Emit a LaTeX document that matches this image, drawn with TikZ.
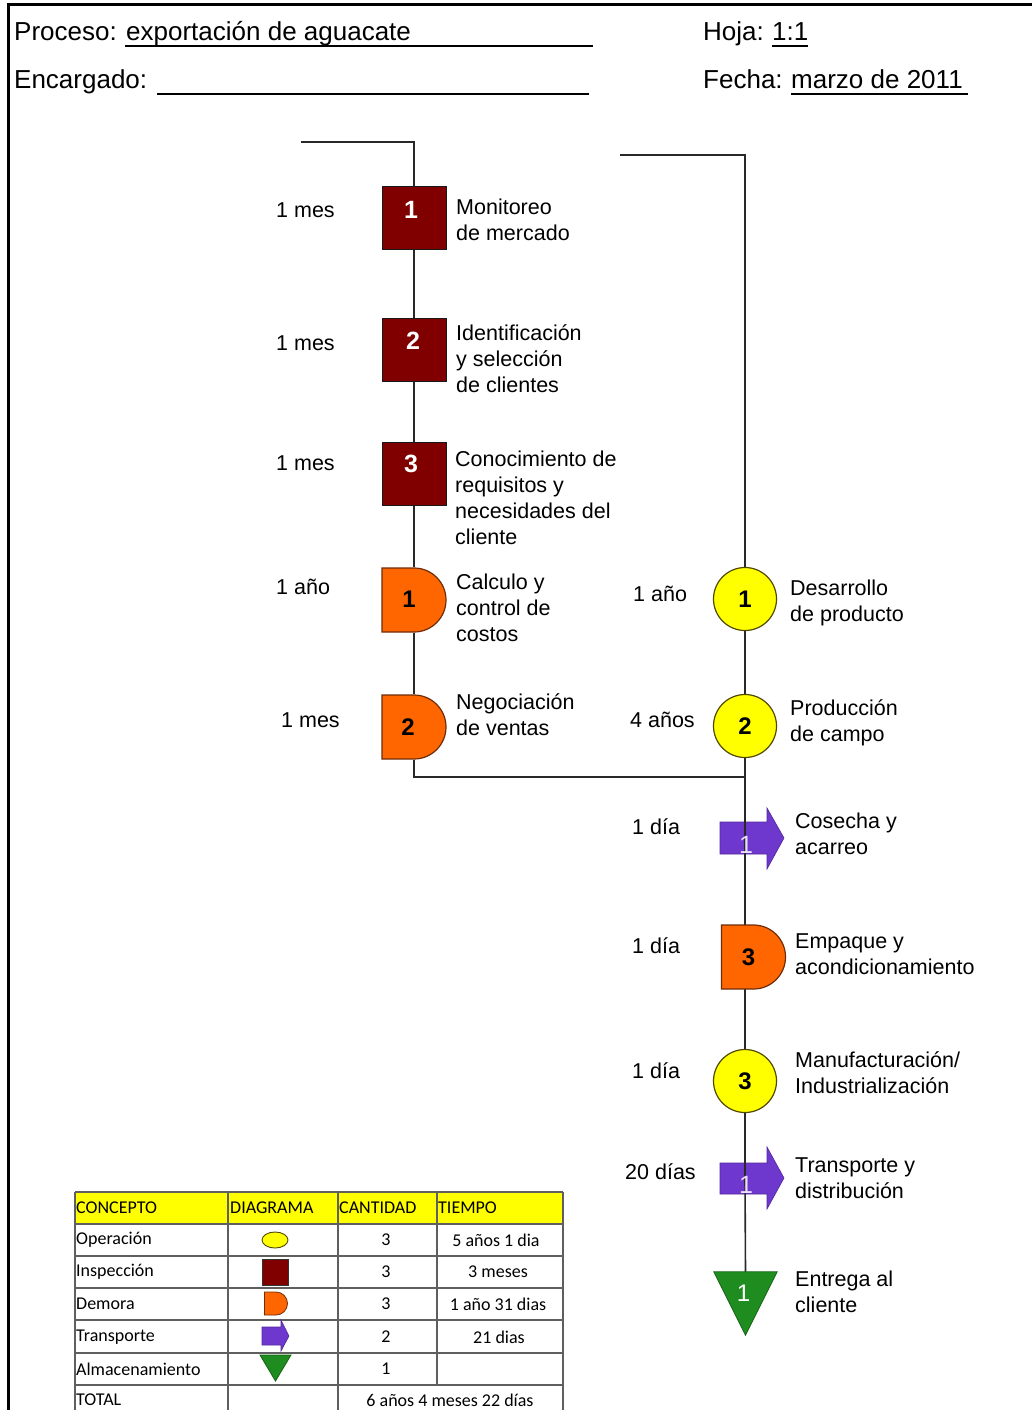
\documentclass[tikz,border=0pt]{standalone}
\usepackage{fontspec}
\setmainfont{Liberation Sans}
\newfontfamily\tablefont{Carlito}
\usetikzlibrary{shapes.misc,backgrounds,calc}

\definecolor{inspred}{RGB}{128,0,0}
\definecolor{delayor}{RGB}{255,102,0}
\definecolor{delayedge}{RGB}{110,45,10}
\definecolor{opyel}{RGB}{255,255,0}
\definecolor{opedge}{RGB}{80,72,0}
\definecolor{transpur}{RGB}{110,55,205}
\definecolor{storgreen}{RGB}{30,140,30}
\definecolor{flowline}{RGB}{40,40,40}
\definecolor{rulegray}{RGB}{95,95,95}
\definecolor{numlight}{RGB}{235,225,255}

\tikzset{
  flow/.style={draw=flowline, line width=1.6pt},
  inspbox/.style={rectangle, draw=black!90, line width=1pt, fill=inspred,
    minimum width=64pt, minimum height=63pt, inner sep=0pt},
  delaybox/.style={rounded rectangle, rounded rectangle west arc=none,
    draw=delayedge, line width=1.2pt, fill=delayor,
    minimum width=64pt, minimum height=64pt, inner sep=0pt},
  opcircle/.style={circle, draw=opedge, line width=1.2pt, fill=opyel,
    minimum size=63pt, inner sep=0pt},
  anchorbox/.style={rectangle, minimum width=64pt, minimum height=62pt, inner sep=0pt},
  storebox/.style={rectangle, minimum width=63pt, minimum height=63pt, inner sep=0pt},
  transfill/.style={fill=transpur, draw=transpur!75!black, line width=0.6pt},
  storefill/.style={fill=storgreen, draw=storgreen!70!black, line width=0.8pt},
  numw/.style={font=\fontsize{25}{25}\selectfont\bfseries, text=white, inner sep=0pt},
  numb/.style={font=\fontsize{24}{24}\selectfont\bfseries, text=black, inner sep=0pt},
  numl/.style={font=\fontsize{25}{25}\selectfont, text=numlight, inner sep=0pt},
  numg/.style={font=\fontsize{24}{24}\selectfont, text=white, inner sep=0pt},
  stepdesc/.style={anchor=north west, align=left, inner sep=0pt,
    font=\fontsize{21.5}{26}\selectfont},
  timelbl/.style={anchor=west, inner sep=0pt, font=\fontsize{21.5}{26}\selectfont},
  headtxt/.style={anchor=base west, inner sep=0pt, font=\fontsize{26}{30}\selectfont},
  tabtxt/.style={inner sep=0pt, font=\tablefont\fontsize{18}{20}\selectfont},
  tabrule/.style={draw=rulegray, line width=1.2pt},
  headrule/.style={draw=black, line width=1.3pt},
}

\begin{document}
\begin{tikzpicture}[x=1pt, y=-1pt]
\begin{pgfonlayer}{background}
  \fill[white] (0,0) rectangle (1032,1410);
\end{pgfonlayer}
\useasboundingbox (0,0) rectangle (1032,1410);

% sheet frame
\draw[line width=3pt] (7,5) -- (1032,5);
\draw[line width=3pt] (8,5) -- (8,1410);

% header
\node[headtxt] (proc-l) at (14,41) {Proceso:};
\node[headtxt] (proc-v) at (126,41) {exportación de aguacate};
\node[headtxt] (enc-l) at (14,89) {Encargado:};
\node[headtxt] (hoja-l) at (703,41) {Hoja:};
\node[headtxt] (hoja-v) at (772,41) {1:1};
\node[headtxt] (fecha-l) at (703,89) {Fecha:};
\node[headtxt] (fecha-v) at (791,89) {marzo de 2011};
\draw[headrule] (125,46) -- (593,46);
\draw[headrule] (157,94) -- (589,94);
\draw[headrule] (772,46) -- (808,46);
\draw[headrule] (791,94) -- (968,94);

% free ends of the two flow lines and their meeting point
\coordinate (startL) at (301,142);
\coordinate (startR) at (620,155);
\coordinate (join) at (745,777);

% left branch
\node[inspbox] (sq1) at (414,217.5) {};
\node[inspbox] (sq2) at (414,349.5) {};
\node[inspbox] (sq3) at (414,474) {};
\node[delaybox] (d1) at (414,600) {};
\node[delaybox] (d2) at (414,727) {};

% right branch
\node[opcircle] (c1) at (745,599) {};
\node[opcircle] (c2) at (745,726) {};
\node[anchorbox] (tr1) at (745,838) {};
\node[delaybox, minimum width=63pt] (d3) at (753.5,957) {};
\node[opcircle] (c3) at (745,1081) {};
\node[anchorbox] (tr2) at (745,1178) {};
\node[storebox] (st1) at (745.5,1303.5) {};
\fill[storefill] (st1.north west) -- (st1.north east) -- (st1.south) -- cycle;

\begin{pgfonlayer}{background}
  % transport arrows sit under the flow line
  \path[transfill] ([shift={(-25,-16)}]tr1.center) -- ++(47,0) -- ++(0,-14)
    -- ++(17,30) -- ++(-17,31) -- ++(0,-15) -- ++(-47,0) -- cycle;
  \path[transfill] ([shift={(-25,-15)}]tr2.center) -- ++(47,0) -- ++(0,-16)
    -- ++(17,31) -- ++(-17,31) -- ++(0,-15) -- ++(-47,0) -- cycle;
  % flow lines
  \draw[flow] (startL) -| (sq1);
  \draw[flow] (sq1) -- (sq2) -- (sq3) -- (d1) -- (d2);
  \draw[flow] (d2) |- (join);
  \draw[flow] (startR) -| (c1);
  \draw[flow] (c1) -- (c2) -- (join) -- (tr1.center) -- (c3) -- (tr2.center) -- (st1.north);
\end{pgfonlayer}

% symbol numbers
\node[numw] (sq1-n) at ([shift={(-3,-8)}]sq1.center) {1};
\node[numw] (sq2-n) at ([shift={(-1,-9)}]sq2.center) {2};
\node[numw] (sq3-n) at ([shift={(-3,-10)}]sq3.center) {3};
\node[numb] (d1-n) at ([shift={(-5,-1)}]d1.center) {1};
\node[numb] (d2-n) at ([shift={(-6,0)}]d2.center) {2};
\node[numb] (d3-n) at ([shift={(-5,0)}]d3.center) {3};
\node[numb] (c1-n) at (c1.center) {1};
\node[numb] (c2-n) at (c2.center) {2};
\node[numb] (c3-n) at (c3.center) {3};
\node[numl] (tr1-n) at ([shift={(1,7)}]tr1.center) {1};
\node[numl] (tr2-n) at ([shift={(1,7)}]tr2.center) {1};
\node[numg] (st1-n) at ([shift={(-2,-10)}]st1.center) {1};

% step descriptions
\node[stepdesc] (sq1-t) at (456,198.3) {Monitoreo\\de mercado};
\node[stepdesc] (sq2-t) at (456,324.3) {Identificación\\y selección\\de clientes};
\node[stepdesc] (sq3-t) at (455,450.3) {Conocimiento de\\requisitos y\\necesidades del\\cliente};
\node[stepdesc] (d1-t) at (456,573.5) {Calculo y\\control de\\costos};
\node[stepdesc] (d2-t) at (456,693.5) {Negociación\\de ventas};
\node[stepdesc] (c1-t) at (790,579.5) {Desarrollo\\de producto};
\node[stepdesc] (c2-t) at (790,699.5) {Producción\\de campo};
\node[stepdesc] (tr1-t) at (795,812.5) {Cosecha y\\acarreo};
\node[stepdesc] (d3-t) at (795,933.5) {Empaque y\\acondicionamiento};
\node[stepdesc] (c3-t) at (795,1051.5) {Manufacturación/\\Industrialización};
\node[stepdesc] (tr2-t) at (795,1157.5) {Transporte y\\distribución};
\node[stepdesc] (st1-t) at (795,1270.5) {Entrega al\\cliente};

% durations
\node[timelbl] (sq1-d) at (276,210.5) {1 mes};
\node[timelbl] (sq2-d) at (276,343) {1 mes};
\node[timelbl] (sq3-d) at (276,463) {1 mes};
\node[timelbl] (d1-d) at (276,587) {1 año};
\node[timelbl] (d2-d) at (281,720) {1 mes};
\node[timelbl] (c1-d) at (633,594) {1 año};
\node[timelbl] (c2-d) at (630,720) {4 años};
\node[timelbl] (tr1-d) at (632,827) {1 día};
\node[timelbl] (d3-d) at (632,946) {1 día};
\node[timelbl] (c3-d) at (632,1071) {1 día};
\node[timelbl] (tr2-d) at (625,1172) {20 días};

% summary table
\fill[opyel] (75,1192) rectangle (563,1224);
\foreach \yy in {1192,1224,1256,1288,1320,1353,1385}
  \draw[tabrule] (75,\yy) -- (563,\yy);
\draw[tabrule] (75,1192) -- (75,1410);
\draw[tabrule] (228,1192) -- (228,1410);
\draw[tabrule] (338,1192) -- (338,1410);
\draw[tabrule] (437,1192) -- (437,1385);
\draw[tabrule] (563,1192) -- (563,1410);

\node[tabtxt, anchor=west] (h-concepto) at (76,1208) {CONCEPTO};
\node[tabtxt, anchor=west] (h-diagrama) at (230,1208) {DIAGRAMA};
\node[tabtxt, anchor=west] (h-cantidad) at (339,1208) {CANTIDAD};
\node[tabtxt, anchor=west] (h-tiempo) at (438,1208) {TIEMPO};

\node[tabtxt, anchor=west] (r-op) at (76,1240) {Operación};
\node[tabtxt, anchor=west] (r-insp) at (76,1272) {Inspección};
\node[tabtxt, anchor=west] (r-dem) at (76,1304) {Demora};
\node[tabtxt, anchor=west] (r-tr) at (76,1337) {Transporte};
\node[tabtxt, anchor=west] (r-alm) at (76,1369) {Almacenamiento};
\node[tabtxt, anchor=west] (r-tot) at (76,1400) {TOTAL};

\node[tabtxt] (q-op) at (386,1240) {3};
\node[tabtxt] (q-insp) at (386,1272) {3};
\node[tabtxt] (q-dem) at (386,1304) {3};
\node[tabtxt] (q-tr) at (386,1337) {2};
\node[tabtxt] (q-alm) at (386,1369) {1};

\node[tabtxt] (t-op) at (496,1240) {5 años 1 dia};
\node[tabtxt] (t-insp) at (498,1272) {3 meses};
\node[tabtxt] (t-dem) at (498,1304) {1 año 31 dias};
\node[tabtxt] (t-tr) at (499,1337) {21 dias};
\node[tabtxt] (t-tot) at (450,1400) {6 años 4 meses 22 días};

% table symbols
\draw[fill=opyel, draw=opedge, line width=0.9pt] (275,1240) ellipse [x radius=13pt, y radius=8pt];
\draw[fill=inspred, draw=black!80, line width=0.6pt] (262,1259) rectangle (288,1285);
\node[delaybox, minimum width=22pt, minimum height=23pt, line width=0.8pt] (icon-d) at (276,1303.5) {};
\path[transfill] (262,1327) -- (281,1327) -- (281,1320) -- (289,1336) -- (281,1351)
  -- (281,1345) -- (262,1345) -- cycle;
\fill[storefill] (260,1355) -- (291,1355) -- (275.5,1381) -- cycle;
\end{tikzpicture}
\end{document}
